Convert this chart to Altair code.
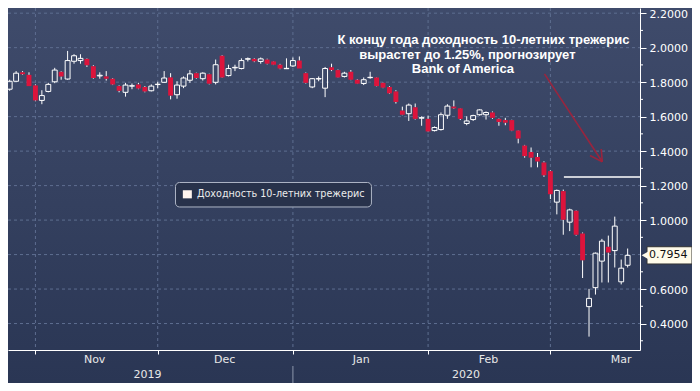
import altair as alt
import pandas as pd

W, H = 632, 342
RIGHT, BOTTOM = 52, 33

# ---- candle data (10y treasury yield, daily OHLC) ----
open_ = [1.759, 1.805, 1.857, 1.842, 1.781, 1.694, 1.746, 1.802, 1.860, 1.818,
         1.921, 1.925, 1.935, 1.892, 1.836, 1.833, 1.820, 1.777, 1.741, 1.777,
         1.787, 1.772, 1.750, 1.786, 1.799, 1.827, 1.727, 1.777, 1.811, 1.852,
         1.820, 1.846, 1.799, 1.953, 1.838, 1.883, 1.879, 1.933, 1.935, 1.920,
         1.931, 1.920, 1.901, 1.878, 1.894, 1.925, 1.852, 1.772, 1.818, 1.765,
         1.886, 1.870, 1.833, 1.860, 1.814, 1.792, 1.826, 1.827, 1.796, 1.772,
         1.746, 1.635, 1.617, 1.654, 1.591, 1.587, 1.519, 1.525, 1.608, 1.658,
         1.648, 1.560, 1.583, 1.611, 1.611, 1.624, 1.587, 1.580, 1.580, 1.519,
         1.432, 1.395, 1.366, 1.334, 1.284, 1.104, 1.168, 0.988, 1.054, 0.922,
         0.498, 0.608, 0.762, 0.845, 0.823, 0.642, 0.738]
high = [1.814, 1.864, 1.864, 1.857, 1.787, 1.753, 1.796, 1.883, 1.864, 1.981,
        1.962, 1.962, 1.938, 1.898, 1.857, 1.864, 1.824, 1.781, 1.796, 1.792,
        1.796, 1.777, 1.787, 1.802, 1.864, 1.852, 1.805, 1.833, 1.870, 1.855,
        1.857, 1.849, 1.931, 1.957, 1.901, 1.901, 1.938, 1.943, 1.939, 1.943,
        1.936, 1.922, 1.906, 1.938, 1.943, 1.949, 1.856, 1.824, 1.833, 1.888,
        1.907, 1.873, 1.860, 1.870, 1.818, 1.827, 1.860, 1.829, 1.798, 1.777,
        1.753, 1.658, 1.676, 1.676, 1.602, 1.606, 1.543, 1.624, 1.672, 1.694,
        1.650, 1.602, 1.611, 1.643, 1.630, 1.630, 1.590, 1.593, 1.582, 1.521,
        1.436, 1.421, 1.389, 1.341, 1.288, 1.177, 1.177, 1.066, 1.057, 0.928,
        0.601, 0.812, 0.891, 0.910, 1.020, 0.771, 0.835]
low = [1.750, 1.802, 1.842, 1.777, 1.689, 1.672, 1.741, 1.794, 1.814, 1.814,
       1.907, 1.907, 1.888, 1.820, 1.820, 1.809, 1.783, 1.741, 1.716, 1.759,
       1.759, 1.741, 1.746, 1.765, 1.796, 1.700, 1.704, 1.765, 1.796, 1.820,
       1.809, 1.787, 1.787, 1.824, 1.833, 1.864, 1.874, 1.920, 1.916, 1.907,
       1.903, 1.899, 1.875, 1.876, 1.888, 1.879, 1.792, 1.765, 1.805, 1.713,
       1.864, 1.825, 1.827, 1.811, 1.789, 1.783, 1.820, 1.775, 1.765, 1.731,
       1.676, 1.608, 1.575, 1.583, 1.547, 1.510, 1.514, 1.519, 1.587, 1.644,
       1.580, 1.550, 1.575, 1.606, 1.583, 1.587, 1.547, 1.550, 1.516, 1.445,
       1.362, 1.306, 1.306, 1.251, 1.122, 1.033, 0.915, 0.936, 0.910, 0.664,
       0.324, 0.568, 0.638, 0.638, 0.725, 0.627, 0.725]
close = [1.805, 1.852, 1.846, 1.777, 1.694, 1.722, 1.787, 1.870, 1.833, 1.925,
         1.953, 1.938, 1.898, 1.824, 1.840, 1.820, 1.787, 1.750, 1.783, 1.779,
         1.763, 1.746, 1.777, 1.788, 1.824, 1.722, 1.783, 1.824, 1.848, 1.824,
         1.852, 1.791, 1.901, 1.827, 1.879, 1.886, 1.925, 1.936, 1.921, 1.935,
         1.907, 1.901, 1.879, 1.880, 1.925, 1.879, 1.796, 1.820, 1.821, 1.879,
         1.870, 1.827, 1.852, 1.814, 1.791, 1.814, 1.828, 1.777, 1.768, 1.735,
         1.685, 1.611, 1.667, 1.587, 1.594, 1.514, 1.537, 1.611, 1.661, 1.648,
         1.587, 1.575, 1.606, 1.639, 1.624, 1.593, 1.569, 1.565, 1.519, 1.473,
         1.371, 1.362, 1.340, 1.260, 1.150, 1.172, 1.002, 1.059, 0.915, 0.767,
         0.546, 0.808, 0.878, 0.812, 0.965, 0.721, 0.7954]

# ---- axes / labels ----
month_ticks = [4, 23, 44, 65, 84]
month_names = ["Nov", "Dec", "Jan", "Feb", "Mar"]
month_label_pos = [13.2, 33.4, 54.6, 74.4, 95.0]
year_names = ["2019", "2020"]
year_label_pos = [21.4, 70.9]
year_split = [44]
grid_values = [0.4, 0.6, 0.8, 1.0, 1.2, 1.4, 1.6, 1.8, 2.0, 2.2]
label_values = [0.4, 0.6, 1.0, 1.2, 1.4, 1.6, 1.8, 2.0, 2.2]
minor_values = [0.3, 0.5, 0.7, 0.9, 1.1, 1.3, 1.5, 1.7, 1.9, 2.1]

forecast_value = [1.25]
forecast_start = [86.1]
last_value = [0.7954]

annot_lines = ["К концу года доходность 10-летних трежерис",
               "вырастет до 1.25%, прогнозирует",
               "Bank of America"]
annot_x = [73.6, 71.1, 70.4]
annot_y = [2.047, 1.958, 1.875]

arrow_x = [83.08, 92.06, 92.06]
arrow_y = [1.848, 1.338, 1.338]
arrow_x2 = [92.06, 90.15, 91.9]
arrow_y2 = [1.338, 1.375, 1.412]

legend_label = ["Доходность 10-летних трежерис"]
legend_box = dict(x=[25.76], x2=[56.2], y=[1.218], y2=[1.076])
legend_swatch = dict(x=[26.9], x2=[28.3], y=[1.173], y2=[1.126])
legend_text_pos = dict(x=[29.1], y=[1.150])

RED = "#dc143c"
GRID = "#5e6e90"

XS = alt.Scale(domain=[-0.26, 97.92], nice=False, zero=False)
YS = alt.Scale(domain=[0.2465, 2.230], nice=False, zero=False)

x_axis = alt.Axis(values=month_ticks, labels=False, grid=False, tickColor="white",
                  tickSize=4, domainColor="white", title=None, zindex=1)
y_axis = alt.Axis(orient="right", values=label_values, format=".4f", grid=False,
                  labelColor="white", labelFont="DejaVu Sans", labelFontSize=11,
                  tickColor="white", tickSize=6, domainColor="white", labelPadding=3,
                  labelOffset=1, title=None, zindex=1)


def X(f):
    return alt.X(f, type="quantitative", scale=XS, axis=x_axis, title=None)


def Y(f):
    return alt.Y(f, type="quantitative", scale=YS, axis=y_axis, title=None)


candles = pd.DataFrame({"i": list(range(len(open_))), "o": open_, "h": high,
                        "l": low, "c": close})
candles["top"] = candles[["o", "c"]].max(axis=1)
candles["bot"] = candles[["o", "c"]].min(axis=1)
candles["lx"] = candles["i"] - 0.38
candles["rx"] = candles["i"] + 0.38

grad = alt.Gradient(gradient="linear",
                    stops=[alt.GradientStop(color="#3f4b6b", offset=0),
                           alt.GradientStop(color="#2a3654", offset=1)],
                    x1=0, x2=0, y1=0, y2=1)

one = pd.DataFrame({"a": [0]})
bg = alt.Chart(one).mark_rect(fill=grad).encode(
    x=alt.value(0), x2=alt.value(W + RIGHT), y=alt.value(0), y2=alt.value(H + BOTTOM))

hgrid = alt.Chart(pd.DataFrame({"v": grid_values})).mark_rule(
    color=GRID, strokeDash=[3, 3], strokeWidth=1).encode(
    y=Y("v"), x=alt.value(0), x2=alt.value(W))
vgrid = alt.Chart(pd.DataFrame({"t": month_ticks})).mark_rule(
    color=GRID, strokeDash=[3, 3], strokeWidth=1).encode(
    x=X("t"), y=alt.value(0), y2=alt.value(H))

base = alt.Chart(candles)
wick_hi = base.mark_rule(color="white", strokeWidth=1).encode(
    x=X("i"), y=Y("h"), y2=alt.Y2("top"))
wick_lo = base.mark_rule(color="white", strokeWidth=1).encode(
    x=X("i"), y=Y("bot"), y2=alt.Y2("l"))
body_dn = base.transform_filter("datum.c < datum.o").mark_rect(fill=RED).encode(
    x=X("lx"), x2=alt.X2("rx"), y=Y("top"), y2=alt.Y2("bot"))
body_up = base.transform_filter("datum.c >= datum.o").mark_rect(
    fill="white", fillOpacity=0, stroke="white", strokeWidth=1).encode(
    x=X("lx"), x2=alt.X2("rx"), y=Y("top"), y2=alt.Y2("bot"))

forecast = alt.Chart(pd.DataFrame({"x": forecast_start, "v": forecast_value})).mark_rule(
    color="white", strokeWidth=1.5).encode(x=X("x"), x2=alt.value(W), y=Y("v"))

arrow = alt.Chart(pd.DataFrame({"x": arrow_x, "y": arrow_y, "x2": arrow_x2,
                                "y2": arrow_y2})).mark_rule(
    color="#a3213a", strokeWidth=1.6, opacity=0.9).encode(
    x=X("x"), y=Y("y"), x2=alt.X2("x2"), y2=alt.Y2("y2"))

annot = alt.Chart(pd.DataFrame({"t": annot_lines, "x": annot_x, "y": annot_y})).mark_text(
    font="Liberation Sans", fontWeight="bold", fontSize=13, color="white",
    align="center", baseline="middle").encode(x=X("x"), y=Y("y"), text="t:N")

leg_box = alt.Chart(pd.DataFrame(legend_box)).mark_rect(
    fill="#28324b", stroke="#aeb5c5", strokeWidth=1, cornerRadius=4).encode(
    x=X("x"), x2=alt.X2("x2"), y=Y("y"), y2=alt.Y2("y2"))
leg_sw = alt.Chart(pd.DataFrame(legend_swatch)).mark_rect(fill="#fff4ee").encode(
    x=X("x"), x2=alt.X2("x2"), y=Y("y"), y2=alt.Y2("y2"))
leg_txt = alt.Chart(pd.DataFrame({"t": legend_label, **legend_text_pos})).mark_text(
    font="DejaVu Sans", fontSize=9.6, color="#ececec", align="left",
    baseline="middle").encode(x=X("x"), y=Y("y"), text="t:N")

months = alt.Chart(pd.DataFrame({"n": month_names, "p": month_label_pos})).mark_text(
    font="DejaVu Sans", fontSize=11, color="#e8e8e8", baseline="middle").encode(
    x=X("p"), y=alt.value(H + 10), text="n:N")
years = alt.Chart(pd.DataFrame({"n": year_names, "p": year_label_pos})).mark_text(
    font="DejaVu Sans", fontSize=11, color="#e8e8e8", baseline="middle").encode(
    x=X("p"), y=alt.value(H + 25), text="n:N")
ysep = alt.Chart(pd.DataFrame({"p": year_split})).mark_rule(
    color="#8d97ab", strokeWidth=1).encode(
    x=X("p"), y=alt.value(H + 16), y2=alt.value(H + BOTTOM))

minor = alt.Chart(pd.DataFrame({"v": minor_values})).mark_rule(
    color="white", strokeWidth=1).encode(y=Y("v"), x=alt.value(W), x2=alt.value(W + 3))

tag_df = pd.DataFrame({"v": last_value})
tag_df["lo"] = tag_df["v"] - 0.05
tag_df["hi"] = tag_df["v"] + 0.05
tag_box = alt.Chart(tag_df).mark_rect(fill="#fffbea", stroke="#333333", strokeWidth=1).encode(
    x=alt.value(W + 7), x2=alt.value(W + 52), y=Y("lo"), y2=alt.Y2("hi"))
tag_tip = alt.Chart(tag_df).mark_point(shape="triangle-left", filled=True, fill="#fffbea",
                                       opacity=1, size=60).encode(
    x=alt.value(W + 5), y=Y("v"))
tag_txt = alt.Chart(tag_df).mark_text(font="DejaVu Sans", fontSize=11, color="#111111",
                                      align="left", baseline="middle").encode(
    x=alt.value(W + 9), y=Y("v"), text=alt.Text("v:Q", format=".4f"))

chart = alt.layer(
    bg, hgrid, vgrid, forecast, arrow, wick_hi, wick_lo, body_dn, body_up,
    annot, leg_box, leg_sw, leg_txt, months, years, ysep, minor,
    tag_box, tag_tip, tag_txt
).properties(
    width=W, height=H,
    autosize=alt.AutoSizeParams(type="none"),
    padding={"left": 0, "top": 0, "right": RIGHT, "bottom": BOTTOM},
    background="#2c3856",
).configure_view(stroke=None)

chart.save("out.html", embed_options={"renderer": "svg", "actions": False})
